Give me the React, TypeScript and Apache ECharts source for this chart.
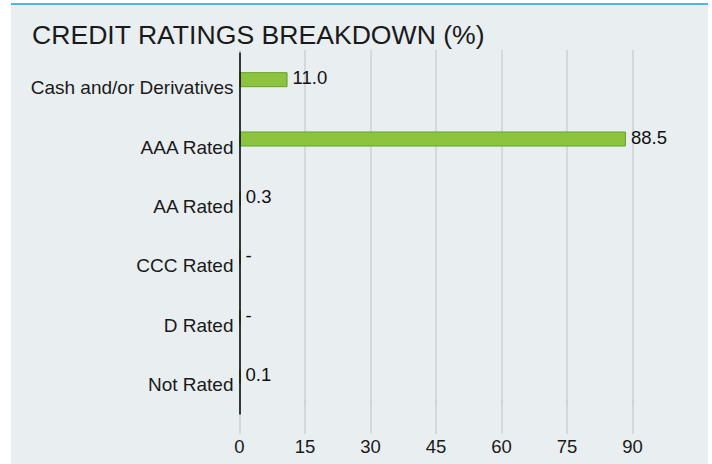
import React, { useEffect, useRef } from 'react';
import * as echarts from 'echarts';

const titleText = 'CREDIT RATINGS BREAKDOWN (%)';
const categories = ['Cash and/or Derivatives', 'AAA Rated', 'AA Rated', 'CCC Rated', 'D Rated', 'Not Rated'];
const values = [11.0, 88.5, 0.3, 0, 0, 0.1];
const axisMin = 0;
const axisMax = 105;
const axisStep = 15;

export default function App() {
  const ref = useRef<HTMLDivElement>(null);
  useEffect(() => {
    const chart = echarts.init(ref.current!, null, { renderer: 'svg' });
    const font = "'Liberation Sans', Arial, sans-serif";
    const gl = 239.5;
    const gr = 14;
    const splitStyle = { color: '#cfd2d4', width: 1.5 };
    chart.setOption({
      animation: false,
      textStyle: { fontFamily: font },
      title: {
        text: titleText,
        left: 27,
        top: 16,
        textStyle: { fontFamily: font, fontSize: 26.6, fontWeight: 'normal', color: '#1a1a1a' },
      },
      grid: [
        { left: gl, right: gr, top: 50, height: 356 },
        { left: gl, right: gr, top: 400, height: 34 },
        { left: gl, right: gr, top: 53, height: 361 },
      ],
      xAxis: [
        {
          gridIndex: 0, type: 'value', min: axisMin, max: axisMax, interval: axisStep,
          axisLabel: { show: false }, axisLine: { show: false }, axisTick: { show: false },
          splitLine: { show: true, showMaxLine: false, lineStyle: splitStyle },
        },
        {
          gridIndex: 1, type: 'value', min: axisMin, max: axisMax, interval: axisStep,
          axisLine: { show: false }, axisTick: { show: false },
          axisLabel: { show: true, showMaxLabel: false, fontSize: 18.5, color: '#1a1a1a', margin: 3, fontFamily: font },
          splitLine: { show: true, showMaxLine: false, lineStyle: splitStyle },
        },
        { gridIndex: 2, type: 'value', min: axisMin, max: axisMax, show: false },
      ],
      yAxis: [
        {
          gridIndex: 0, type: 'category', data: categories, inverse: true,
          axisLine: { show: false }, axisTick: { show: false },
          axisLabel: { fontSize: 19, color: '#1a1a1a', margin: 6, verticalAlign: 'top', lineHeight: 16, fontFamily: font },
        },
        { gridIndex: 1, type: 'value', show: false },
        {
          gridIndex: 2, type: 'category', data: categories, inverse: true, z: 5,
          axisLine: { show: true, lineStyle: { color: '#000000', width: 1.5 } },
          axisTick: { show: false }, axisLabel: { show: false }, splitLine: { show: false },
        },
      ],
      series: [
        {
          type: 'bar',
          xAxisIndex: 0,
          yAxisIndex: 0,
          data: values,
          barWidth: 15,
          barMinHeight: 1,
          itemStyle: { color: '#8cc43f', borderColor: '#64a12c', borderWidth: 1 },
          label: {
            show: true,
            position: 'right',
            distance: 5,
            offset: [0, -2],
            fontSize: 18.5,
            color: '#111111',
            fontFamily: font,
            formatter: (p: any) => (p.value === 0 ? '-' : Number(p.value).toFixed(1)),
          },
        },
      ],
    });
    return () => chart.dispose();
  }, []);

  return (
    <div style={{ position: 'fixed', left: 0, top: 0, width: 712, height: 464, background: '#ffffff', overflow: 'hidden' }}>
      <div
        style={{
          position: 'absolute', left: 11, top: 3, width: 697, height: 461,
          background: '#e9eef1', borderTop: '2px solid #4db6e9', boxSizing: 'border-box',
        }}
      />
      <div ref={ref} style={{ position: 'absolute', left: 0, top: 0, width: 712, height: 464 }} />
    </div>
  );
}
